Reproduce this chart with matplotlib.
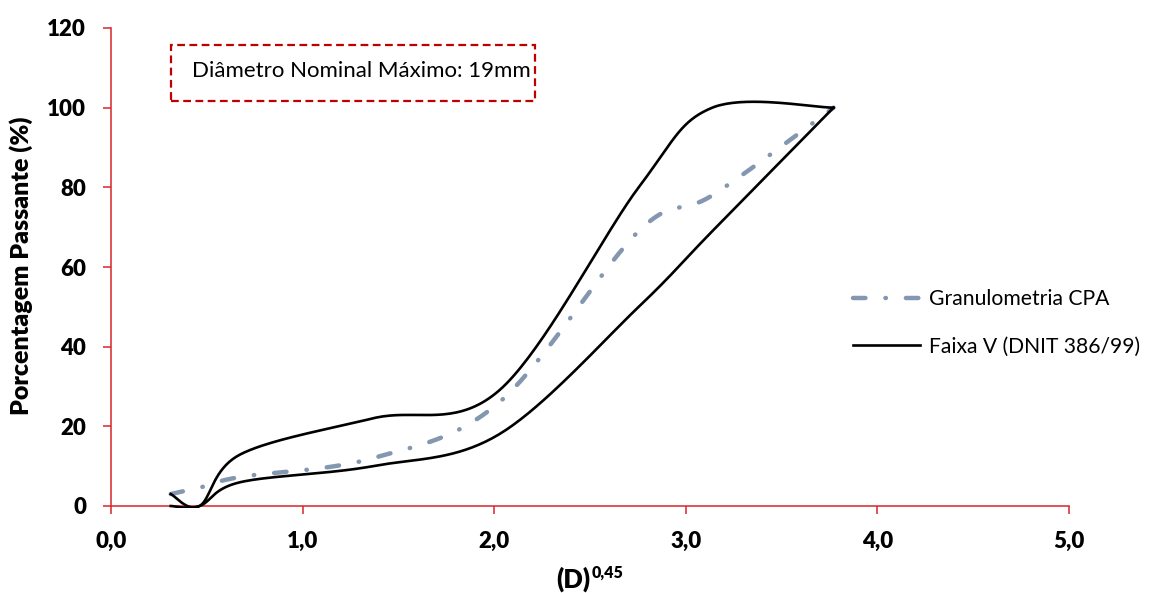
import numpy as np
import matplotlib
matplotlib.use("Agg")
import matplotlib.pyplot as plt
from matplotlib.patches import Rectangle
from matplotlib.transforms import Bbox, TransformedBbox

# ---- data ----
sieve_mm = [0.075, 0.18, 0.42, 2.0, 4.8, 9.5, 12.7, 19.1]
cpa = [3.0, 4.6, 7.3, 12.0, 26.0, 69.0, 78.0, 100.0]
faixa_sup = [3.0, 0.0, 13.0, 22.0, 29.0, 80.0, 100.0, 100.0]
faixa_inf = [0.0, 0.0, 6.0, 10.0, 18.0, 50.0, 69.0, 100.0]
x_ticks = [0, 1, 2, 3, 4, 5]
x_tick_labels = ["0,0", "1,0", "2,0", "3,0", "4,0", "5,0"]
y_ticks = [0, 20, 40, 60, 80, 100, 120]

xv = np.array(sieve_mm) ** 0.45


def smooth(x, y, n=40):
    """Excel-like smoothed line (parametric Catmull-Rom Bezier)."""
    P = np.column_stack([x, y]).astype(float)
    pts = []
    m = len(P)
    t = np.linspace(0, 1, n)
    for i in range(m - 1):
        p0 = P[i - 1] if i > 0 else P[i]
        p1 = P[i]
        p2 = P[i + 1]
        p3 = P[i + 2] if i + 2 < m else P[i + 1]
        b1 = p1 + (p2 - p0) / 6.0
        b2 = p2 - (p3 - p1) / 6.0
        seg = ((1 - t) ** 3)[:, None] * p1 + (3 * (1 - t) ** 2 * t)[:, None] * b1 \
            + (3 * (1 - t) * t ** 2)[:, None] * b2 + (t ** 3)[:, None] * p2
        pts.append(seg if i == 0 else seg[1:])
    s = np.vstack(pts)
    return s[:, 0], s[:, 1]


plt.rcParams['font.family'] = ['Lato', 'DejaVu Sans']
W, H = 1149, 593
fig = plt.figure(figsize=(W / 100, H / 100), dpi=100)
ax = fig.add_axes([111 / W, 1 - 506 / H, (1069 - 111) / W, (506 - 28) / H])

red = '#D9262B'
cpa_col = '#8497B0'
clip = TransformedBbox(Bbox([[-1, -0.6], [6, 130]]), ax.transData)

sx, sy = smooth(xv, cpa)
l1, = ax.plot(sx, sy, color=cpa_col, lw=3.2, dashes=(2.8, 4.5, 0.1, 4.5),
              dash_capstyle='round', label='Granulometria CPA', zorder=3)
ux, uy = smooth(xv, faixa_sup)
l2, = ax.plot(ux, uy, color='black', lw=1.9, label='Faixa V (DNIT 386/99)', zorder=4)
lx, ly = smooth(xv, faixa_inf)
l3, = ax.plot(lx, ly, color='black', lw=1.9, zorder=4)
for ln in (l1, l2, l3):
    ln.set_clip_box(clip)

ax.set_xlim(0, 5)
ax.set_ylim(0, 120)
ax.set_xticks(x_ticks)
ax.set_xticklabels(x_tick_labels)
ax.set_yticks(y_ticks)
for s in ['top', 'right']:
    ax.spines[s].set_visible(False)
for s in ['left', 'bottom']:
    ax.spines[s].set_color(red)
    ax.spines[s].set_linewidth(1.1)
ax.spines['bottom'].set_zorder(2)
ax.tick_params(axis='both', direction='out', length=6, width=1.1, color=red,
               labelsize=16, pad=12)
for lab in ax.get_xticklabels() + ax.get_yticklabels():
    lab.set_fontweight('heavy')

ax.set_ylabel('Porcentagem Passante (%)', fontsize=18, fontweight='heavy')
ax.yaxis.set_label_coords((33 - 111) / 958, (506 - 266) / 478)

ax.set_xlabel('(D)', fontsize=18.5, fontweight='heavy', ha='right')
ax.xaxis.set_label_coords((590 - 111) / 958, (506 - 566) / 478)
ax.annotate('0,45', xy=(1.0, 1.0), xycoords=ax.xaxis.label,
            xytext=(1, 1), textcoords='offset points', ha='left', va='top',
            fontsize=11.5, fontweight='heavy')

leg = ax.legend(loc='center left', bbox_to_anchor=(853 / W, 1 - 323 / H),
                bbox_transform=fig.transFigure, frameon=False, fontsize=15.2,
                handlelength=3.15, handletextpad=0.47, labelspacing=1.3,
                borderpad=0, borderaxespad=0)

fig.patches.append(Rectangle((171 / W, 1 - 101 / H), 364 / W, 56 / H,
                             transform=fig.transFigure, fill=False,
                             edgecolor='#C00000', lw=1.6, linestyle=(0, (3.5, 2))))
fig.text(192 / W, 1 - 71 / H, 'Diâmetro Nominal Máximo: 19mm', fontsize=16,
         va='center', ha='left')

fig.savefig('out.png', dpi=100)
